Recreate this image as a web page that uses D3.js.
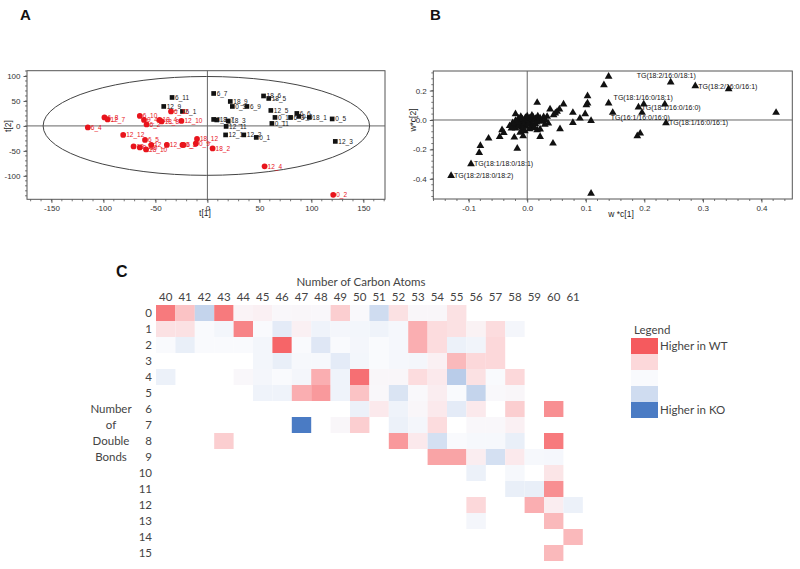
<!DOCTYPE html>
<html><head><meta charset="utf-8">
<script src="https://cdn.jsdelivr.net/npm/d3@7"></script>
<style>body{margin:0;background:#fff}svg{display:block}</style>
</head><body>
<svg id="c" width="800" height="569"></svg>
<script>
// ---------- Panel A: scores ----------
const scoreX = [-34,-42,-24,6,22,24,38,54,59,61,65,86,80,88,98,62,120,123,6,9,20,18,17.5,35,47,
  -115,-99,-96,-65,-61,-58.5,-46,-44,-25,-35,-81,-60,-71,-65,-59,-54,-39,-24,-11,-10,-23,5,55,121];
const scoreY = [57,39,29,65,49,39,39,60,55,31,17,25,17,19,17,5,14,-31,13,12,10,-1,-18,-18,-23,
  -3,17,13,20,12,3,12,9,10,29,-18,-28,-41,-43,-47,-38,-38,-38,-35,-26,-38,-45,-81,-138];
const scoreLabel = ["6_11","12_9","6_1","6_7","18_9","0_3","6_9","18_6","18_5","12_5","0_12","6_6","6_3","0_6","18_1","0_11","0_5","12_3","0_7","18_7","18_3","12_11","12_1","12_2","0_1",
  "6_4","6_8","12_7","6_10","0_4","6_2","18_4","18_8","12_10","6_12","12_12","6_5","18_11","0_10","18_10","12_8","12_6","0_8","0_9","18_12","6_3","18_2","12_4","0_2"];
const scoreGroup = ["KO","KO","KO","KO","KO","KO","KO","KO","KO","KO","KO","KO","KO","KO","KO","KO","KO","KO","KO","KO","KO","KO","KO","KO","KO",
  "WT","WT","WT","WT","WT","WT","WT","WT","WT","WT","WT","WT","WT","WT","WT","WT","WT","WT","WT","WT","WT","WT","WT","WT"];
const scoreXTicks = [-150,-100,-50,0,50,100,150];
const scoreYTicks = [-100,-50,0,50,100];

// ---------- Panel B: loadings ----------
const loadX = [-0.096,-0.130,0.245,0.287,0.139,0.190,0.146,0.237,
  0.344,0.199,0.235,0.196,0.188,0.193,0.109,0.425,0.139,0.131,0.103,0.103,0.101,0.099,0.090,0.109,0.078,0.078,0.062,0.055,0.051,0.039,0.048,0.045,0.034,0.031,0.036,0.056,0.044,0.017,0.022,0.017,0.022,-0.007,-0.017,-0.020,-0.020,-0.022,-0.040,-0.043,-0.047,-0.066,-0.080,-0.082,-0.027,-0.024,
  -0.015,-0.012,-0.010,-0.008,-0.005,-0.003,0.000,0.002,0.004,0.006,0.008,0.010,0.012,0.014,0.016,0.018,0.020,0.022,0.025,-0.018,-0.014,-0.010,-0.006,-0.002,0.002,0.006,0.010,0.014,-0.016,-0.020,-0.025,-0.008,-0.004,0.004,0.012,0.000,0.008,-0.011,0.028,0.030,-0.030,-0.012];
const loadY = [-0.299,-0.379,0.256,0.231,0.114,0.086,0.050,-0.020,
  0.211,0.107,0.107,0.050,-0.109,-0.091,-0.499,0.050,0.295,0.238,0.163,0.114,0.102,0.041,0.011,-0.005,0.050,-0.018,0.107,0.073,0.057,0.073,0.046,0.034,0.023,0.000,-0.023,-0.061,-0.159,0.118,-0.063,-0.068,-0.114,-0.109,-0.193,0.041,-0.057,-0.118,-0.086,-0.068,-0.114,-0.125,-0.175,-0.222,-0.057,-0.046,
  0.010,-0.005,-0.020,0.005,-0.012,0.015,0.000,-0.008,0.012,-0.020,0.004,0.018,-0.004,0.008,-0.015,0.025,0.002,0.012,-0.010,-0.030,-0.040,-0.050,-0.035,-0.045,-0.030,-0.050,-0.038,-0.028,-0.015,-0.005,-0.020,-0.065,-0.075,-0.062,-0.055,0.025,0.030,0.022,0.020,-0.030,-0.040,-0.085];
const loadLabel = ["TG(18:1/18:0/18:1)","TG(18:2/18:0/18:2)","TG(18:2/16:0/18:1)","TG(18:2/16:0/16:1)","TG(18:1/16:0/18:1)","TG(18:1/16:0/16:0)","TG(16:1/16:0/16:0)","TG(18:1/16:0/16:1)"];
const loadLabelPlace = ["right","right","upleft","right","up","right","down","right"];
const loadXTicks = [-0.1,0.0,0.1,0.2,0.3,0.4];
const loadYTicks = [-0.4,-0.2,0.0,0.2];

// ---------- Panel C: heatmap ----------
const carbonAtoms = d3.range(40,62);
const doubleBonds = d3.range(0,16);
const _ = null;
// rows = double bonds 0..15, columns = carbon atoms 40..61; +1 higher in WT, -1 higher in KO
const heatValues = [
 [0.85,0.5,-0.45,0.85,0.08,0.12,0.04,0.05,0.04,0.45,0.02,-0.4,0.3,0.05,0.05,0.3,_,_,_,_,_,_],
 [0.3,0.3,0,-0.06,0.8,0,-0.2,0.12,-0.1,-0.05,-0.06,-0.1,-0.04,0.6,0.35,0.3,0.1,0.35,-0.05,_,_,_],
 [0,-0.15,0,0,0,-0.06,0.95,0,-0.25,0,-0.05,0,-0.04,0.6,0.35,-0.12,-0.08,0.4,_,_,_,_],
 [_,_,_,_,_,-0.06,-0.15,-0.03,-0.03,-0.2,-0.06,0,-0.04,-0.05,0.12,0.55,0.4,0.4,_,_,_,_],
 [-0.12,_,_,_,0.03,-0.05,0,-0.05,0.6,-0.1,0.9,0.05,0.05,0.35,0.2,-0.5,0.3,0,0.4,_,_,_],
 [_,_,_,_,_,-0.1,-0.1,0.6,0.7,-0.1,0.5,0.03,-0.3,0.02,0.15,0,-0.45,0.02,0.05,_,_,_],
 [_,_,_,_,_,_,_,_,_,_,-0.12,0.2,-0.1,0.05,0.2,-0.2,0.2,_,0.45,_,0.75,_],
 [_,_,_,_,_,_,_,-1,_,0.05,0.45,_,-0.12,-0.05,0.35,_,0.03,0.03,0.12,_,_,_],
 [_,_,_,0.45,_,_,_,_,_,_,_,_,0.7,0.2,-0.35,0,-0.03,-0.03,-0.15,_,0.85,_],
 [_,_,_,_,_,_,_,_,_,_,_,_,_,_,0.65,0.65,0.15,-0.35,0.2,-0.03,-0.04,_],
 [_,_,_,_,_,_,_,_,_,_,_,_,_,_,_,_,-0.12,_,-0.03,_,0.25,_],
 [_,_,_,_,_,_,_,_,_,_,_,_,_,_,_,_,_,_,-0.15,-0.15,0.75,_],
 [_,_,_,_,_,_,_,_,_,_,_,_,_,_,_,_,0.4,_,_,0.6,0.15,-0.12],
 [_,_,_,_,_,_,_,_,_,_,_,_,_,_,_,_,-0.05,_,_,_,0.55,_],
 [_,_,_,_,_,_,_,_,_,_,_,_,_,_,_,_,_,_,_,_,_,0.55],
 [_,_,_,_,_,_,_,_,_,_,_,_,_,_,_,_,_,_,_,_,0.55,_]
];
const legendValues = [1,0.4,0,-0.4,-1];
const legendLabels = ["Higher in WT","","","","Higher in KO"];

// ================= drawing =================
const svg = d3.select("#c");
const tickFont = "'Liberation Sans', Arial, sans-serif";

function framedAxes(g, x, y, xt, yt, xminor, yminor, xfmt, yfmt){
  const [x0,x1] = x.range(), [y0,y1] = y.range();
  g.append("rect").attr("x",x0).attr("y",y1).attr("width",x1-x0).attr("height",y0-y1)
    .attr("fill","none").attr("stroke","#555").attr("stroke-width",1);
  g.append("line").attr("x1",x0).attr("x2",x1).attr("y1",y(0)).attr("y2",y(0)).attr("stroke","#666").attr("stroke-width",1);
  g.append("line").attr("x1",x(0)).attr("x2",x(0)).attr("y1",y0).attr("y2",y1).attr("stroke","#666").attr("stroke-width",1);
  g.selectAll(null).data(xminor).join("line").attr("x1",d=>x(d)).attr("x2",d=>x(d))
    .attr("y1",y0).attr("y2",y0+2).attr("stroke","#555").attr("stroke-width",0.8);
  g.selectAll(null).data(yminor).join("line").attr("y1",d=>y(d)).attr("y2",d=>y(d))
    .attr("x1",x0-2).attr("x2",x0).attr("stroke","#555").attr("stroke-width",0.8);
  const ax = g.append("g").attr("transform",`translate(0,${y0})`)
    .call(d3.axisBottom(x).tickValues(xt).tickSize(3.5).tickPadding(3).tickFormat(xfmt));
  const ay = g.append("g").attr("transform",`translate(${x0},0)`)
    .call(d3.axisLeft(y).tickValues(yt).tickSize(3.5).tickPadding(3).tickFormat(yfmt));
  [ax,ay].forEach(a=>{
    a.select(".domain").remove();
    a.selectAll("line").attr("stroke","#555");
    a.selectAll("text").attr("font-family",tickFont).attr("font-size",8).attr("fill","#333")
      .text(function(){return this.textContent.replace("\u2212","-");});
  });
}

// ---- Panel A ----
const gA = svg.append("g");
const xA = d3.scaleLinear().domain([-173.5,170.8]).range([27,385]);
const yA = d3.scaleLinear().domain([-147,110.6]).range([199.3,70.7]);
framedAxes(gA, xA, yA, scoreXTicks, scoreYTicks, d3.range(-170,171,10), d3.range(-140,111,10), d3.format("d"), d3.format("d"));
gA.append("ellipse").attr("cx",xA(-1)).attr("cy",yA(0))
  .attr("rx",xA(156)-xA(-1)).attr("ry",yA(0)-yA(99))
  .attr("fill","none").attr("stroke","#444").attr("stroke-width",1);
const ptsA = scoreX.map((v,i)=>({x:v,y:scoreY[i],lab:scoreLabel[i],grp:scoreGroup[i]}));
gA.selectAll(".ptA").data(ptsA).join("path").attr("class","ptA")
  .attr("transform",d=>`translate(${xA(d.x)},${yA(d.y)})`)
  .attr("d",d=>d3.symbol().type(d.grp==="WT"?d3.symbolCircle:d3.symbolSquare).size(d.grp==="WT"?26:22)())
  .attr("fill",d=>d.grp==="WT"?"#e8141c":"#111");
gA.selectAll(".labA").data(ptsA).join("text").attr("class","labA")
  .attr("x",d=>xA(d.x)+3).attr("y",d=>yA(d.y)+2.5)
  .attr("font-family",tickFont).attr("font-size",6.5)
  .attr("fill",d=>d.grp==="WT"?"#e8141c":"#222").text(d=>d.lab);
gA.append("text").attr("x",205).attr("y",216).attr("text-anchor","middle")
  .attr("font-family",tickFont).attr("font-size",8.5).attr("fill","#222").text("t[1]");
gA.append("text").attr("transform","translate(11,126) rotate(-90)").attr("text-anchor","middle")
  .attr("font-family",tickFont).attr("font-size",8.5).attr("fill","#222").text("t[2]");
svg.append("text").attr("x",20).attr("y",20).attr("font-family",tickFont).attr("font-weight","bold")
  .attr("font-size",15).attr("fill","#111").text("A");

// ---- Panel B ----
const gB = svg.append("g");
const xB = d3.scaleLinear().domain([-0.1604,0.4527]).range([433.3,792.3]);
const yB = d3.scaleLinear().domain([-0.537,0.333]).range([199,71]);
framedAxes(gB, xB, yB, loadXTicks, loadYTicks, d3.range(-0.16,0.451,0.02), d3.range(-0.52,0.33,0.04), d3.format(".1f"), d3.format(".1f"));
const ptsB = loadX.map((v,i)=>({x:v,y:loadY[i]}));
gB.selectAll(".ptB").data(ptsB).join("path").attr("class","ptB")
  .attr("transform",d=>`translate(${xB(d.x)},${yB(d.y)})`)
  .attr("d",d3.symbol().type(d3.symbolTriangle).size(26)()).attr("fill","#111");
const labsB = loadLabel.map((l,i)=>({x:loadX[i],y:loadY[i],lab:l,place:loadLabelPlace[i]}));
gB.selectAll(".labB").data(labsB).join("text").attr("class","labB")
  .attr("x",d=>xB(d.x)+(d.place==="upleft"?-34:d.place==="up"?5:d.place==="down"?-2:3))
  .attr("y",d=>yB(d.y)+(d.place==="upleft"?-4:d.place==="up"?-3:d.place==="down"?7:2.5))
  .attr("font-family",tickFont).attr("font-size",7).attr("fill","#111").text(d=>d.lab);
gB.append("text").attr("x",621).attr("y",217).attr("text-anchor","middle")
  .attr("font-family",tickFont).attr("font-size",8.5).attr("fill","#222").text("w *c[1]");
gB.append("text").attr("transform","translate(416,120) rotate(-90)").attr("text-anchor","middle")
  .attr("font-family",tickFont).attr("font-size",8.5).attr("fill","#222").text("w*c[2]");
svg.append("text").attr("x",430).attr("y",20).attr("font-family",tickFont).attr("font-weight","bold")
  .attr("font-size",15).attr("fill","#111").text("B");

// ---- Panel C ----
const gC = svg.append("g");
const color = d3.scaleLinear().domain([-1,-0.4,0,0.4,1])
  .range(["#4a7bc4","#cfdcf0","#f9fafd","#fcd8da","#f55a5e"]);
const xC = d3.scaleBand().domain(carbonAtoms).range([156,156+22*19.4]).padding(0);
const yC = d3.scaleBand().domain(doubleBonds).range([305,305+16*16]).padding(0);
const cells = [];
heatValues.forEach((row,r)=>row.forEach((v,c)=>{ if(v!==null) cells.push({c:carbonAtoms[c],r:doubleBonds[r],v}); }));
gC.selectAll(".cell").data(cells).join("rect").attr("class","cell")
  .attr("x",d=>xC(d.c)).attr("y",d=>yC(d.r))
  .attr("width",xC.bandwidth()).attr("height",yC.bandwidth())
  .attr("fill",d=>color(d.v));
const cFont = "Lato, 'Open Sans', sans-serif";
const axT = gC.append("g").attr("transform","translate(0,305)")
  .call(d3.axisTop(xC).tickSize(0).tickPadding(4));
const axL = gC.append("g").attr("transform","translate(156,0)")
  .call(d3.axisLeft(yC).tickSize(0).tickPadding(4));
[axT,axL].forEach(a=>{a.select(".domain").remove();
  a.selectAll("text").attr("font-family",cFont).attr("font-size",11.5).attr("fill","#444");});
gC.append("text").attr("x",361).attr("y",286).attr("text-anchor","middle")
  .attr("font-family",cFont).attr("font-size",11.5).attr("fill","#444").text("Number of Carbon Atoms");
["Number","of","Double","Bonds"].forEach((t,i)=>{
  gC.append("text").attr("x",111).attr("y",yC(6+i)+yC.bandwidth()/2+4).attr("text-anchor","middle")
    .attr("font-family",cFont).attr("font-size",11.5).attr("fill","#444").text(t);
});
svg.append("text").attr("x",116).attr("y",277).attr("font-family",tickFont).attr("font-weight","bold")
  .attr("font-size",16).attr("fill","#111").text("C");
// legend
const gL = svg.append("g");
gL.append("text").attr("x",634).attr("y",334).attr("font-family",cFont).attr("font-size",11.5)
  .attr("fill","#444").text("Legend");
gL.selectAll(".sw").data(legendValues).join("rect").attr("class","sw")
  .attr("x",631).attr("y",(d,i)=>338+i*16).attr("width",27).attr("height",16)
  .attr("fill",d=>color(d));
gL.selectAll(".swl").data(legendLabels).join("text").attr("class","swl")
  .attr("x",660).attr("y",(d,i)=>338+i*16+12).attr("font-family",cFont).attr("font-size",11.5)
  .attr("fill","#444").text(d=>d);
</script>
</body></html>
